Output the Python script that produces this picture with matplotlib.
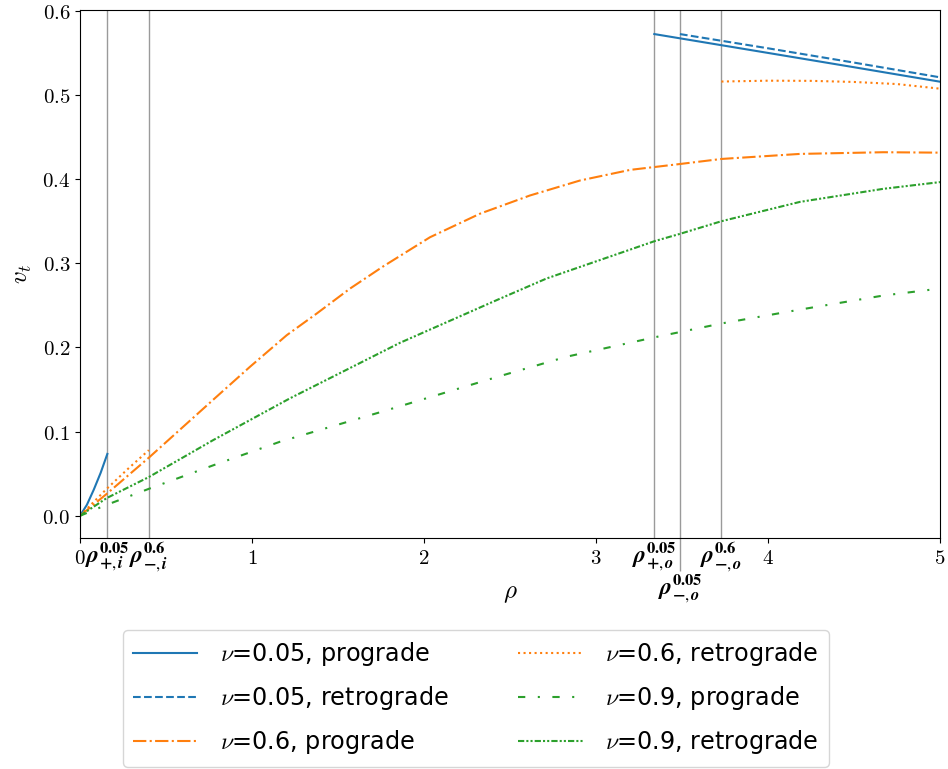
import matplotlib
matplotlib.use("Agg")
import matplotlib.pyplot as plt
from matplotlib.mathtext import MathTextParser

plt.rcParams['mathtext.fontset'] = 'cm'
plt.rcParams['font.family'] = ['DejaVu Sans']

# ---------------- data ----------------
rho_marks = [0.159, 0.40, 3.339, 3.488, 3.729]

nu005_pro_in_rho = [0.0, 0.04, 0.08, 0.12, 0.159]
nu005_pro_in_v = [0.0, 0.013, 0.031, 0.051, 0.0735]
nu005_pro_out_rho = [3.339, 4.0, 4.5, 5.0]
nu005_pro_out_v = [0.5724, 0.550, 0.533, 0.5158]

nu005_ret_out_rho = [3.488, 4.0, 4.5, 5.0]
nu005_ret_out_v = [0.5724, 0.5555, 0.5385, 0.521]

nu06_pro_rho = [0.0, 0.155, 0.4, 0.775, 0.988, 1.202, 1.376, 1.570, 1.764, 2.035,
                2.326, 2.616, 2.907, 3.198, 3.488, 3.729, 4.186, 4.67, 5.0]
nu06_pro_v = [0.0, 0.026, 0.069, 0.138, 0.177, 0.2146, 0.2403, 0.270, 0.2965, 0.331,
              0.359, 0.3806, 0.3984, 0.411, 0.418, 0.424, 0.430, 0.432, 0.4315]

nu06_ret_in_rho = [0.0, 0.155, 0.28, 0.40]
nu06_ret_in_v = [0.0, 0.032, 0.056, 0.078]
nu06_ret_out_rho = [3.729, 4.0, 4.25, 4.5, 4.75, 5.0]
nu06_ret_out_v = [0.516, 0.517, 0.5168, 0.5155, 0.513, 0.5075]

nu09_pro_rho = [0.0, 0.155, 0.4, 0.775, 1.163, 1.744, 2.442, 2.829, 3.339, 3.729,
                4.186, 4.67, 5.0]
nu09_pro_v = [0.0, 0.013, 0.032, 0.060, 0.088, 0.123, 0.166, 0.189, 0.212, 0.2285,
              0.245, 0.2617, 0.270]

nu09_ret_rho = [0.0, 0.155, 0.4, 0.775, 1.221, 1.860, 2.442, 2.713, 3.343, 3.488,
                3.729, 4.186, 4.67, 5.0]
nu09_ret_v = [0.0, 0.021, 0.046, 0.090, 0.1396, 0.2055, 0.258, 0.282, 0.3265, 0.335,
              0.350, 0.373, 0.3885, 0.3965]

x_ticks = [0, 1, 2, 3, 4, 5]
y_ticks = [0.0, 0.1, 0.2, 0.3, 0.4, 0.5, 0.6]

labels = [r'$\nu$=0.05, prograde', r'$\nu$=0.05, retrograde', r'$\nu$=0.6, prograde',
          r'$\nu$=0.6, retrograde', r'$\nu$=0.9, prograde', r'$\nu$=0.9, retrograde']


def ok(s):
    try:
        MathTextParser('path').parse(s)
        return True
    except Exception:
        return False


def rholab(sign, side, nu):
    cands = [r'$\boldsymbol{\rho}^{\mathbf{%s}}_{\boldsymbol{%s,%s}}$' % (nu, sign, side),
             r'$\rho^{%s}_{%s,%s}$' % (nu, sign, side)]
    for c in cands:
        if ok(c):
            return c
    return cands[-1]


blue, orange, green = '#1f77b4', '#ff7f0e', '#2ca02c'

fig = plt.figure(figsize=(9.48, 7.69), dpi=100)
ax = fig.add_axes([80 / 948, 1 - 538 / 769, 860 / 948, 528 / 769])

for r in rho_marks:
    ax.axvline(r, color='#9a9a9a', lw=1.0, zorder=1)

lw = 1.5
l1, = ax.plot(nu005_pro_in_rho, nu005_pro_in_v, color=blue, lw=lw, ls='-')
ax.plot(nu005_pro_out_rho, nu005_pro_out_v, color=blue, lw=lw, ls='-')
l2, = ax.plot(nu005_ret_out_rho, nu005_ret_out_v, color=blue, lw=lw, ls='--')
l3, = ax.plot(nu06_pro_rho, nu06_pro_v, color=orange, lw=lw, ls='-.')
l4, = ax.plot(nu06_ret_in_rho, nu06_ret_in_v, color=orange, lw=lw, ls=':')
ax.plot(nu06_ret_out_rho, nu06_ret_out_v, color=orange, lw=lw, ls=':')
l5, = ax.plot(nu09_pro_rho, nu09_pro_v, color=green, lw=lw, ls=(0, (3.5, 6, 1, 6)))
l6, = ax.plot(nu09_ret_rho, nu09_ret_v, color=green, lw=lw, ls=(0, (3, 1, 1, 1, 1, 1)))

ax.set_xlim(0, 5)
ax.set_ylim(-0.0264, 0.601)

ax.set_xticks(x_ticks)
ax.set_xticklabels([r'$%d$' % t for t in x_ticks], fontsize=15)
ax.set_yticks(y_ticks)
ax.set_yticklabels([r'$%.1f$' % t for t in y_ticks], fontsize=15)

minor_pos = [rho_marks[0], rho_marks[1], rho_marks[2], rho_marks[4]]
minor_lab = [rholab('+', 'i', '0.05'), rholab('-', 'i', '0.6'),
             rholab('+', 'o', '0.05'), rholab('-', 'o', '0.6')]
ax.set_xticks(minor_pos, minor=True)
ax.set_xticklabels(minor_lab, minor=True, fontsize=17)
ax.tick_params(axis='x', which='minor', length=0, pad=2)

sec = ax.secondary_xaxis('bottom')
sec.set_xticks([rho_marks[3]])
sec.set_xticklabels([rholab('-', 'o', '0.05')], fontsize=17)
sec.tick_params(length=24, color='#9a9a9a', width=1.0, pad=1)
sec.spines['bottom'].set_visible(False)

for t in ax.get_xticklabels(minor=True) + sec.get_xticklabels():
    t.set_math_fontfamily('stix')

ax.set_xlabel(r'$\rho$', fontsize=18, labelpad=5)
ax.set_ylabel(r'$v_t$', fontsize=18, labelpad=6)

fig.legend([l1, l2, l3, l4, l5, l6], labels, ncol=2, loc='upper center',
           bbox_to_anchor=(0.502, 1 - 618 / 769), fontsize=17.2, handlelength=2.7,
           handletextpad=0.95, columnspacing=2.9, labelspacing=0.68, borderpad=0.42)

fig.savefig('out.png', dpi=100)
